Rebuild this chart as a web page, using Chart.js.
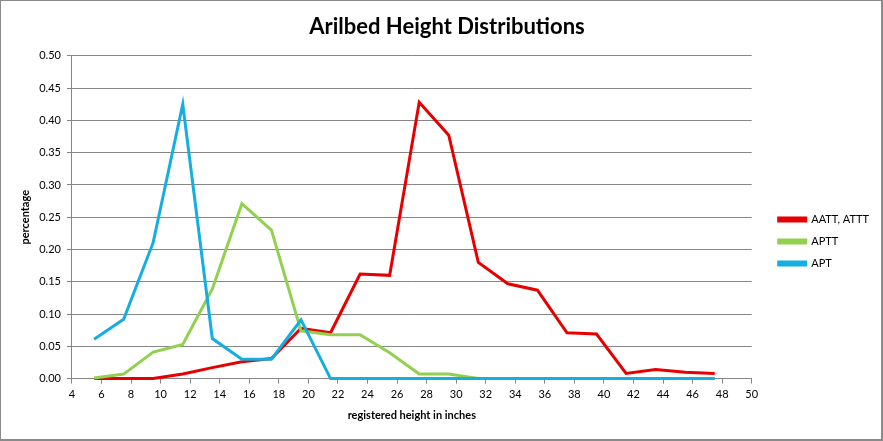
<!DOCTYPE html>
<html>
<head>
<meta charset="utf-8">
<script src="https://cdn.jsdelivr.net/npm/chart.js@4.4.1/dist/chart.umd.min.js"></script>
<style>
  html, body { margin: 0; padding: 0; background: #fff; }
  #wrap { position: relative; width: 883px; height: 441px; box-sizing: border-box;
          border: 1px solid #8a8a8a; border-right-width: 2px; border-bottom-width: 2px; }
</style>
</head>
<body>
<div id="wrap"><canvas id="c"></canvas></div>
<script>
const heights = [5.5, 7.5, 9.5, 11.5, 13.5, 15.5, 17.5, 19.5, 21.5, 23.5, 25.5,
                 27.5, 29.5, 31.5, 33.5, 35.5, 37.5, 39.5, 41.5, 43.5, 45.5, 47.5];
const aattAttt = [0, 0, 0, 0.007, 0.017, 0.026, 0.031, 0.078, 0.071, 0.162, 0.160,
                  0.428, 0.377, 0.180, 0.147, 0.137, 0.071, 0.069, 0.008, 0.014, 0.010, 0.008];
const aptt = [0.001, 0.007, 0.041, 0.053, 0.139, 0.271, 0.230, 0.074, 0.068, 0.068, 0.040,
              0.007, 0.007, 0, 0, 0, 0, 0, 0, 0, 0, 0];
const apt = [0.061, 0.092, 0.211, 0.425, 0.062, 0.030, 0.030, 0.091, 0, 0, 0,
             0, 0, 0, 0, 0, 0, 0, 0, 0, 0, 0];
const seriesNames = ['AATT, ATTT', 'APTT', 'APT'];
const chartTitle = 'Arilbed Height Distributions';
const xTitle = 'registered height in inches';
const yTitle = 'percentage';

const pts = arr => heights.map((h, i) => ({ x: h, y: arr[i] }));
const FONT = 'Lato, "Open Sans", sans-serif';
const GRID = '#868686';

new Chart(document.getElementById('c'), {
  type: 'line',
  data: {
    datasets: [
      { label: seriesNames[0], data: pts(aattAttt), borderColor: '#E60000', backgroundColor: '#E60000', order: 3, clip: 4 },
      { label: seriesNames[1], data: pts(aptt), borderColor: '#92D050', backgroundColor: '#92D050', order: 2, clip: 4 },
      { label: seriesNames[2], data: pts(apt), borderColor: '#14AEE0', backgroundColor: '#14AEE0', order: 1, clip: 4 }
    ]
  },
  options: {
    responsive: true,
    maintainAspectRatio: false,
    animation: false,
    layout: { padding: { left: 14, right: 2, top: 0, bottom: 17 } },
    elements: {
      line: { borderWidth: 3, tension: 0, borderCapStyle: 'butt', borderJoinStyle: 'miter' },
      point: { radius: 0, hoverRadius: 0 }
    },
    plugins: {
      tooltip: { enabled: false },
      title: {
        display: true, text: chartTitle, color: '#000',
        font: { family: FONT, size: 22, weight: 'bold' },
        padding: { top: 13, bottom: 15.5 }
      },
      legend: {
        position: 'right',
        title: { display: true, text: ' ', font: { family: FONT, size: 10 }, padding: { top: 48, bottom: 0 } },
        labels: {
          boxWidth: 27, boxHeight: 3, padding: 11, color: '#000',
          font: { family: FONT, size: 11 },
          sort: (a, b) => a.datasetIndex - b.datasetIndex
        }
      }
    },
    scales: {
      x: {
        type: 'linear', min: 4, max: 50,
        ticks: { stepSize: 2, autoSkip: false, maxRotation: 0, color: '#000', padding: 4,
                 font: { family: FONT, size: 11 } },
        grid: { display: true, drawOnChartArea: false, drawTicks: true, tickLength: 5, color: GRID },
        border: { color: GRID, width: 1 },
        title: { display: true, text: xTitle, color: '#000',
                 font: { family: FONT, size: 11, weight: 'bold' }, padding: { top: 4, bottom: 0 } }
      },
      y: {
        min: 0, max: 0.5,
        ticks: { stepSize: 0.05, color: '#000', padding: 6,
                 font: { family: FONT, size: 11 },
                 callback: v => Number(v).toFixed(2) },
        grid: { color: GRID, tickLength: 5, drawTicks: true },
        border: { color: GRID, width: 1 },
        title: { display: true, text: yTitle, color: '#000',
                 font: { family: FONT, size: 11, weight: 'bold' }, padding: { top: 4, bottom: 1 } }
      },
      gap: {
        type: 'linear', position: 'right', display: true,
        grid: { display: false, drawTicks: false }, border: { display: false },
        ticks: { display: false },
        afterFit: s => { s.width = 16; }
      }
    }
  }
});
</script>
</body>
</html>
